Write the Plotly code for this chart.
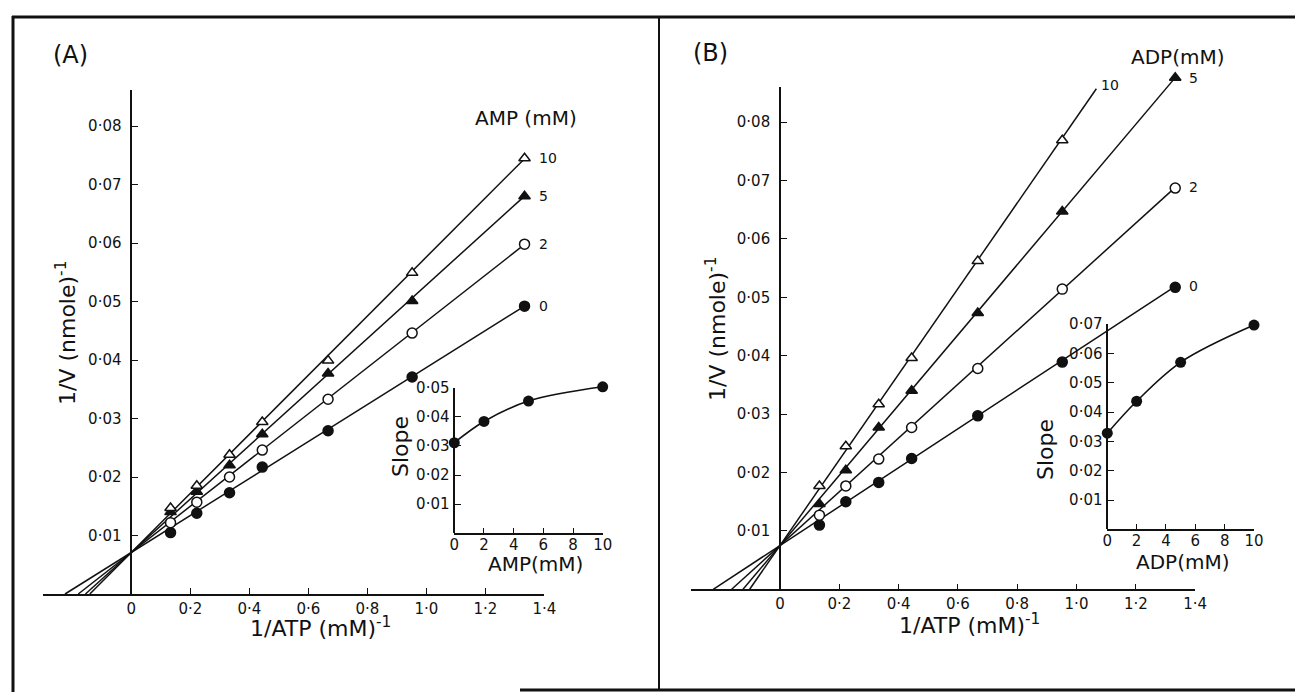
import plotly.graph_objects as go

W, H = 1295, 692

# ---------------- data ----------------
INV_ATP = [0.133, 0.222, 0.333, 0.444, 0.667, 0.952, 1.333]
CONC_LABELS = ["0", "2", "5", "10"]

# Panel A (AMP)
A_Y0 = [0.0105, 0.0138, 0.0173, 0.0217, 0.0279, 0.0371, 0.0492]
A_Y2 = [0.0122, 0.0157, 0.0200, 0.0246, 0.0333, 0.0446, 0.0598]
A_Y5 = [0.0140, 0.0175, 0.0220, 0.0273, 0.0377, 0.0501, 0.0680]
A_Y10 = [0.0147, 0.0185, 0.0238, 0.0294, 0.0399, 0.0549, 0.0745]
A_INTERCEPT = 0.0071
A_LINE_SLOPE = [0.0316, 0.0395, 0.0457, 0.0505]
A_LINE_END = [1.333, 1.333, 1.333, 1.333]

INSET_CONC = [0, 2, 5, 10]
A_INSET_SLOPE = [0.0311, 0.0384, 0.0454, 0.0503]

# Panel B (ADP)
B_X = {
    "0": [0.133, 0.222, 0.333, 0.444, 0.667, 0.952, 1.333],
    "2": [0.133, 0.222, 0.333, 0.444, 0.667, 0.952, 1.333],
    "5": [0.133, 0.222, 0.333, 0.444, 0.667, 0.952, 1.333],
    "10": [0.133, 0.222, 0.333, 0.444, 0.667, 0.952],
}
B_Y0 = [0.0110, 0.0150, 0.0183, 0.0224, 0.0297, 0.0389, 0.0517]
B_Y2 = [0.0127, 0.0177, 0.0223, 0.0277, 0.0378, 0.0514, 0.0687]
B_Y5 = [0.0146, 0.0204, 0.0277, 0.0340, 0.0473, 0.0647, 0.0876]
B_Y10 = [0.0177, 0.0245, 0.0317, 0.0396, 0.0562, 0.0769]
B_INTERCEPT = 0.0075
B_LINE_SLOPE = [0.0333, 0.0460, 0.0601, 0.0733]
B_LINE_END = [1.333, 1.333, 1.333, 1.067]
B_INSET_SLOPE = [0.0328, 0.0437, 0.0570, 0.0697]

MAIN_X_TICKS = [0, 0.2, 0.4, 0.6, 0.8, 1.0, 1.2, 1.4]
MAIN_Y_TICKS = [0.01, 0.02, 0.03, 0.04, 0.05, 0.06, 0.07, 0.08]
INSET_X_TICKS = [0, 2, 4, 6, 8, 10]
A_INSET_Y_TICKS = [0.01, 0.02, 0.03, 0.04, 0.05]
B_INSET_Y_TICKS = [0.01, 0.02, 0.03, 0.04, 0.05, 0.06, 0.07]


def dot(v, nd):
    if v == 0:
        return "0"
    return f"{v:.{nd}f}".replace(".", "\u00b7")


FONT = "DejaVu Sans"
BLACK = "#111111"


def X(px):
    return px / W


def Y(py):
    return 1 - py / H


# pixel calibration of each panel: (px of x=0, px per x unit, py of y=0, px per y unit)
CAL = {
    "A": (131.3, 295.0, 594.0, 5850.0),
    "B": (780.0, 296.5, 589.3, 5840.0),
    "a": (454.3, 14.84, 533.3, 2912.0),
    "b": (1107.3, 14.67, 529.3, 2930.0),
}


def xdom(key, lo, hi):
    x0, sx, _, _ = CAL[key]
    return [X(x0 + lo * sx), X(x0 + hi * sx)]


def ydom(key, lo, hi):
    _, _, y0, sy = CAL[key]
    return [Y(y0 - lo * sy), Y(y0 - hi * sy)]


SYMBOLS = {"0": ("circle", BLACK), "2": ("circle", "white"),
           "5": ("triangle-up", BLACK), "10": ("triangle-up", "white")}

fig = go.Figure()

# empty traces so that the displayed (tick-bearing) axes get drawn
for i in ["", "2", "3", "4"]:
    fig.add_trace(go.Scatter(x=[], y=[], xaxis="x" + i, yaxis="y" + i,
                             showlegend=False, hoverinfo="skip"))

# data axes (hidden) per panel: A->x5/y5, B->x6/y6, a->x7/y7, b->x8/y8
DATA_AX = {"A": ("x5", "y5"), "B": ("x6", "y6"), "a": ("x7", "y7"), "b": ("x8", "y8")}
DATA_RANGE = {"A": ([-0.32, 1.45], [-0.002, 0.095]),
              "B": ([-0.32, 1.45], [-0.002, 0.095]),
              "a": ([-0.6, 10.6], [-0.002, 0.056]),
              "b": ([-0.6, 10.6], [-0.002, 0.076])}


def add_panel(key, xs_map, ys_list, intercept, slopes, ends):
    xa, ya = DATA_AX[key]
    for lab, slope, xend in zip(CONC_LABELS, slopes, ends):
        x0 = -intercept / slope
        fig.add_trace(go.Scatter(
            x=[x0, xend], y=[intercept + slope * x0, intercept + slope * xend],
            mode="lines", line=dict(color=BLACK, width=1.5),
            xaxis=xa, yaxis=ya, showlegend=False, hoverinfo="skip"))
    for lab, ys in zip(CONC_LABELS, ys_list):
        sym, fill = SYMBOLS[lab]
        fig.add_trace(go.Scatter(
            x=xs_map[lab], y=ys, mode="markers",
            marker=dict(symbol=sym, size=10, color=fill, line=dict(color=BLACK, width=1.5)),
            xaxis=xa, yaxis=ya, showlegend=False))


A_X = {k: INV_ATP for k in CONC_LABELS}
add_panel("A", A_X, [A_Y0, A_Y2, A_Y5, A_Y10], A_INTERCEPT, A_LINE_SLOPE, A_LINE_END)
add_panel("B", B_X, [B_Y0, B_Y2, B_Y5, B_Y10], B_INTERCEPT, B_LINE_SLOPE, B_LINE_END)

for key, vals in (("a", A_INSET_SLOPE), ("b", B_INSET_SLOPE)):
    xa, ya = DATA_AX[key]
    fig.add_trace(go.Scatter(
        x=INSET_CONC, y=vals, mode="lines+markers",
        line=dict(color=BLACK, width=1.6, shape="spline", smoothing=1.0),
        marker=dict(symbol="circle", size=11, color=BLACK),
        xaxis=xa, yaxis=ya, showlegend=False))

tickfont = dict(family=FONT, size=15, color=BLACK)
inset_tickfont = dict(family=FONT, size=15, color=BLACK)
common_x = dict(showgrid=False, zeroline=False, showline=True, linecolor=BLACK,
                linewidth=1.6, ticks="inside", ticklen=6, tickwidth=1.4,
                tickcolor=BLACK, tickfont=tickfont, fixedrange=True, ticklabelstandoff=0)
common_y = dict(showgrid=False, zeroline=False, showline=True, linecolor=BLACK,
                linewidth=1.6, ticks="inside", ticklen=6, tickwidth=1.4,
                tickcolor=BLACK, tickfont=tickfont, fixedrange=True,
                anchor="free", ticklabelstandoff=6)
hidden = dict(visible=False, fixedrange=True, showgrid=False, zeroline=False)

layout_axes = dict(
    xaxis=dict(common_x, domain=xdom("A", -0.3, 1.4), range=[-0.3, 1.4], anchor="y",
               tickvals=MAIN_X_TICKS, ticktext=[dot(v, 1) for v in MAIN_X_TICKS]),
    yaxis=dict(common_y, domain=ydom("A", 0, 0.0862), range=[0, 0.0862],
               position=X(CAL["A"][0]),
               tickvals=MAIN_Y_TICKS, ticktext=[dot(v, 2) for v in MAIN_Y_TICKS]),
    xaxis2=dict(common_x, domain=xdom("B", -0.3, 1.4), range=[-0.3, 1.4], anchor="y2",
                tickvals=MAIN_X_TICKS, ticktext=[dot(v, 1) for v in MAIN_X_TICKS]),
    yaxis2=dict(common_y, domain=ydom("B", 0, 0.086), range=[0, 0.086],
                position=X(CAL["B"][0]),
                tickvals=MAIN_Y_TICKS, ticktext=[dot(v, 2) for v in MAIN_Y_TICKS]),
    xaxis3=dict(common_x, domain=xdom("a", 0, 10), range=[0, 10], anchor="y3",
                tickfont=inset_tickfont, ticklabelstandoff=-3,
                tickvals=INSET_X_TICKS, ticktext=[str(v) for v in INSET_X_TICKS]),
    yaxis3=dict(common_y, domain=ydom("a", 0, 0.05), range=[0, 0.05],
                position=X(CAL["a"][0]), tickfont=inset_tickfont, ticklabelstandoff=1,
                tickvals=A_INSET_Y_TICKS, ticktext=[dot(v, 2) for v in A_INSET_Y_TICKS]),
    xaxis4=dict(common_x, domain=xdom("b", 0, 10), range=[0, 10], anchor="y4",
                tickfont=inset_tickfont, ticklabelstandoff=-3,
                tickvals=INSET_X_TICKS, ticktext=[str(v) for v in INSET_X_TICKS]),
    yaxis4=dict(common_y, domain=ydom("b", 0, 0.07), range=[0, 0.07],
                position=X(CAL["b"][0]), tickfont=inset_tickfont, ticklabelstandoff=1,
                tickvals=B_INSET_Y_TICKS, ticktext=[dot(v, 2) for v in B_INSET_Y_TICKS]),
)
for i, key in enumerate(["A", "B", "a", "b"], start=5):
    xr, yr = DATA_RANGE[key]
    layout_axes[f"xaxis{i}"] = dict(hidden, domain=xdom(key, *xr), range=xr, anchor=f"y{i}")
    layout_axes[f"yaxis{i}"] = dict(hidden, domain=ydom(key, *yr), range=yr, anchor=f"x{i}")

fig.update_layout(
    width=W, height=H, margin=dict(l=0, r=0, t=0, b=0, autoexpand=False),
    paper_bgcolor="white", plot_bgcolor="rgba(0,0,0,0)",
    font=dict(family=FONT, color=BLACK),
    **layout_axes,
)

ann = []


def text(px, py, s, size, angle=0, xanchor="center"):
    ann.append(dict(x=X(px), y=Y(py), xref="paper", yref="paper", text=s,
                    showarrow=False, textangle=angle, xanchor=xanchor, yanchor="middle",
                    font=dict(family=FONT, size=size, color=BLACK)))


text(70, 55, "(A)", 24)
text(710, 53, "(B)", 24)
text(526, 118, "AMP (mM)", 20)
text(1178, 57, "ADP(mM)", 20)
text(66, 333, "1/V (nmole)<sup>-1</sup>", 22, angle=-90)
text(716, 329, "1/V (nmole)<sup>-1</sup>", 22, angle=-90)
text(320, 627, "1/ATP (mM)<sup>-1</sup>", 22)
text(969, 624, "1/ATP (mM)<sup>-1</sup>", 22)
text(400, 447, "Slope", 22, angle=-90)
text(1045, 450, "Slope", 22, angle=-90)
text(535, 564, "AMP(mM)", 20)
text(1183, 562, "ADP(mM)", 20)

# series labels next to line ends
for lab, ys in zip(CONC_LABELS, [A_Y0, A_Y2, A_Y5, A_Y10]):
    ann.append(dict(x=INV_ATP[-1], y=ys[-1], xref="x5", yref="y5", text=lab,
                    showarrow=False, xanchor="left", xshift=12,
                    font=dict(family=FONT, size=14, color=BLACK)))
for lab, slope, xend in zip(CONC_LABELS, B_LINE_SLOPE, B_LINE_END):
    ann.append(dict(x=xend, y=B_INTERCEPT + slope * xend, xref="x6", yref="y6", text=lab,
                    showarrow=False, xanchor="left", xshift=12 if lab != "10" else 3,
                    yshift=0 if lab != "10" else 4,
                    font=dict(family=FONT, size=14, color=BLACK)))

fig.update_layout(annotations=ann)

# frame
shapes = [
    dict(type="line", xref="paper", yref="paper", x0=X(12), x1=X(1295), y0=Y(17), y1=Y(17),
         line=dict(color=BLACK, width=3)),
    dict(type="line", xref="paper", yref="paper", x0=X(13), x1=X(13), y0=Y(16), y1=Y(692),
         line=dict(color=BLACK, width=3)),
    dict(type="line", xref="paper", yref="paper", x0=X(659), x1=X(659), y0=Y(17), y1=Y(690),
         line=dict(color=BLACK, width=2)),
    dict(type="line", xref="paper", yref="paper", x0=X(520), x1=X(1295), y0=Y(690), y1=Y(690),
         line=dict(color=BLACK, width=3)),
]
fig.update_layout(shapes=shapes)

fig.write_html("out.html", config={"displayModeBar": False},
               post_script="document.body.style.margin='0';"
                           "document.body.style.overflow='hidden';")
